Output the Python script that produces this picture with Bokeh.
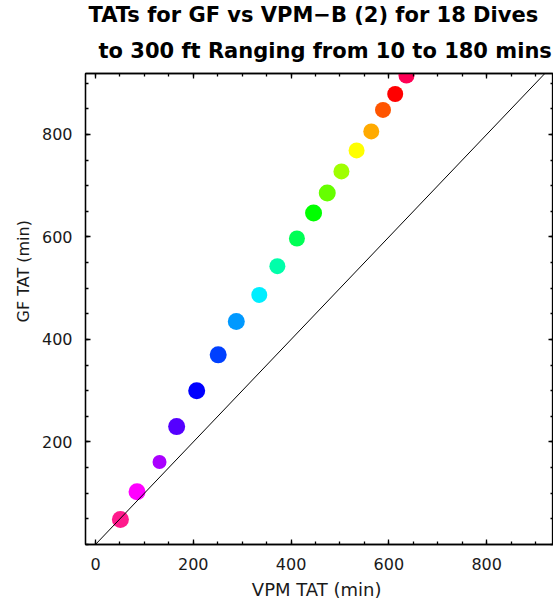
from bokeh.plotting import figure
from bokeh.models import (ColumnDataSource, Slope, LinearAxis, FixedTicker,
                          Title, Range1d, CustomJSTickFormatter)
from bokeh.embed import file_html
from bokeh.resources import INLINE

# Data (minutes)
vpm_tat = [51, 85, 131, 166, 207, 251, 288, 335, 372, 412, 446, 474, 503, 534, 564, 588, 613, 636]
gf_tat = [49, 103, 161, 230, 300, 370, 435, 487, 543, 597, 647, 686, 728, 769, 806, 848, 879, 915]
colors = ["#ff1a8c", "#ff00ff", "#aa00ff", "#5500ff", "#0000ff", "#0040ff", "#0099ff", "#00eeff",
          "#00ffaa", "#00ff55", "#00ff00", "#66ff00", "#a0ff00", "#ffff00", "#ffaa00", "#ff5500",
          "#ff0000", "#ff0055"]
x_ticks = [0, 200, 400, 600, 800]
y_ticks = [200, 400, 600, 800]

marker_sizes = [17, 17, 14, 17, 17, 17, 17, 16, 16, 16, 17, 17, 16, 16, 16, 16, 16, 16]

TICK_FONT = "DejaVu Sans"
TXT = "#1a1a1a"

src = ColumnDataSource(dict(x=vpm_tat, y=gf_tat, c=colors, s=marker_sizes))

p = figure(width=553, height=602, output_backend="svg", toolbar_location=None,
           x_range=Range1d(-20.4, 936.7), y_range=Range1d(0, 919),
           min_border_left=85, min_border_right=0, min_border_top=73, min_border_bottom=57,
           x_axis_label="VPM TAT  (min)")
p.grid.visible = False
p.outline_line_color = "black"
p.outline_line_width = 1.3
p.background_fill_color = "white"
p.border_fill_color = "white"

p.add_layout(Slope(gradient=1, y_intercept=0, line_color="black", line_width=1))
p.scatter("x", "y", source=src, size="s", fill_color="c", line_color=None, marker="circle")

minor = list(range(0, 1000, 50))

def style_axis(ax, ticks, show_labels=True):
    ax.ticker = FixedTicker(ticks=ticks, minor_ticks=minor)
    ax.axis_line_color = "black"
    ax.axis_line_width = 1.3
    ax.major_tick_in = 5
    ax.major_tick_out = 0
    ax.minor_tick_in = 3
    ax.minor_tick_out = 0
    ax.major_tick_line_color = "black"
    ax.minor_tick_line_color = "black"
    ax.major_tick_line_width = 1.3
    ax.minor_tick_line_width = 1.3
    ax.major_label_text_font = TICK_FONT
    ax.major_label_text_font_size = "16px"
    ax.major_label_text_color = TXT
    ax.axis_label_text_font = TICK_FONT
    ax.axis_label_text_font_size = "18px"
    ax.axis_label_text_font_style = "normal"
    ax.axis_label_text_color = TXT
    if not show_labels:
        ax.formatter = CustomJSTickFormatter(code="return ''")
        ax.major_label_standoff = 0

for ax in p.xaxis:
    style_axis(ax, x_ticks)
    ax.major_label_standoff = 13
    ax.axis_label_standoff = 6
for ax in p.yaxis:
    style_axis(ax, y_ticks)
    ax.major_label_standoff = 13
    ax.major_label_orientation = "horizontal"

top_ax = LinearAxis()
style_axis(top_ax, x_ticks, show_labels=False)
p.add_layout(top_ax, "above")
right_ax = LinearAxis()
style_axis(right_ax, y_ticks, show_labels=False)
p.add_layout(right_ax, "right")

ylab = Title(text="GF TAT (min)", align="left", offset=222, text_font=TICK_FONT,
             text_font_size="16px", text_font_style="normal", text_color=TXT, standoff=11)
p.add_layout(ylab, "left")

t2 = Title(text="to 300 ft Ranging from 10 to 180 mins", align="left", offset=13,
           text_font="DejaVu Sans", text_font_size="21px", text_font_style="bold",
           text_color="black", standoff=21)
t1 = Title(text="TATs for GF vs VPM\u2212B (2) for 18 Dives", align="left", offset=3,
           text_font="DejaVu Sans", text_font_size="21px", text_font_style="bold",
           text_color="black", standoff=0)
p.add_layout(t2, "above")
p.add_layout(t1, "above")

open("out.html", "w").write(file_html(p, INLINE))
